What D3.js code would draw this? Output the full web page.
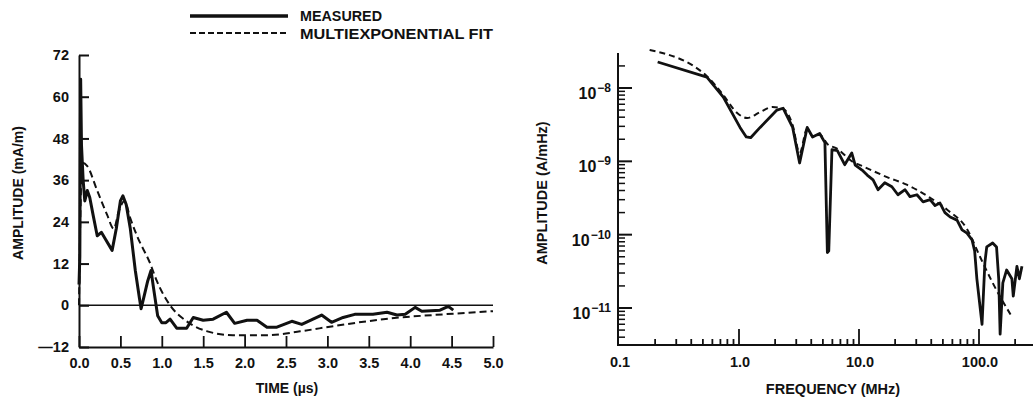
<!DOCTYPE html>
<html>
<head>
<meta charset="utf-8">
<script src="https://cdn.jsdelivr.net/npm/d3@7"></script>
<style>
  body { margin: 0; background: #fff; }
  svg { display: block; }
  text { font-family: "Liberation Sans", Arial, sans-serif; font-weight: bold; fill: #111; }
  .axis path, .axis line { stroke: #111; }
</style>
</head>
<body>
<svg id="chart"></svg>
<script>
// ---- left panel: time domain ----
const timeTicks = [0, 0.5, 1, 1.5, 2, 2.5, 3, 3.5, 4, 4.5, 5];
const ampTicks = [-12, 0, 12, 24, 36, 48, 60, 72];

// [time (us), amplitude (mA/m)]
const measuredTime = [
  [0, 6], [0.01, 14], [0.02, 65], [0.03, 46], [0.05, 36], [0.07, 30], [0.1, 33], [0.13, 31],
  [0.17, 26], [0.22, 20], [0.27, 21], [0.32, 19], [0.4, 15.8], [0.45, 22], [0.5, 30], [0.53, 31.5],
  [0.57, 29], [0.62, 22], [0.68, 10], [0.73, 2], [0.75, -1], [0.78, 2], [0.83, 7], [0.87, 10],
  [0.9, 5], [0.95, -3], [1.0, -5], [1.05, -5], [1.1, -4], [1.18, -6.6], [1.3, -6.6], [1.38, -3.5],
  [1.5, -4.3], [1.62, -4], [1.78, -2], [1.88, -5.2], [2.03, -4.3], [2.15, -4.3], [2.27, -6.3],
  [2.39, -6.3], [2.57, -4.6], [2.69, -5.5], [2.93, -2.8], [3.05, -4.9], [3.19, -3.5], [3.33, -2.6],
  [3.55, -2.6], [3.72, -2], [3.84, -2.8], [3.94, -2.6], [4.06, -0.6], [4.14, -1.7], [4.36, -1.4],
  [4.46, -0.3], [4.52, -1.4]
];
const fitTime = [
  [0, 0], [0.02, 30], [0.04, 41], [0.1, 40], [0.22, 33], [0.34, 26], [0.42, 22], [0.48, 27],
  [0.55, 30], [0.62, 25], [0.7, 20], [0.86, 12], [0.94, 7], [1.1, 0], [1.3, -4.6], [1.55, -7.5],
  [1.86, -8.6], [2.27, -8.6], [2.67, -7.5], [3.07, -6], [3.48, -4.6], [3.88, -3.5], [4.28, -2.8],
  [5.0, -1.7]
];

// ---- right panel: frequency domain ----
const freqLabels = [0.1, 1, 10, 100];
const specDecades = [-11, -10, -9, -8];

// [frequency (MHz), amplitude (A/mHz)]
const measuredSpec = [
  [0.21, 2.26e-8], [0.54, 1.41e-8], [0.74, 7.5e-9], [1.02, 2.9e-9], [1.15, 2.15e-9], [1.25, 2.1e-9],
  [1.5, 2.9e-9], [2.07, 5e-9], [2.33, 5.3e-9], [2.8, 2.9e-9], [3.2, 9.5e-10], [3.7, 2.9e-9],
  [4.1, 2.15e-9], [4.7, 2.4e-9], [5.2, 1.8e-9], [5.45, 5.7e-11], [5.6, 6e-11], [5.95, 1.44e-9],
  [6.6, 1.4e-9], [7.6, 9e-10], [8.7, 1.3e-9], [9.3, 8.9e-10], [10.6, 7.6e-10], [11.7, 6.5e-10],
  [13.1, 5.6e-10], [14.4, 4.1e-10], [16.4, 5.1e-10], [18.8, 4.5e-10], [21.1, 3.5e-10],
  [24.2, 4.1e-10], [26.6, 3.3e-10], [30.4, 3.5e-10], [34.2, 2.8e-10], [39.1, 3e-10], [43, 2.5e-10],
  [47.3, 2.7e-10], [52, 2e-10], [57.5, 1.74e-10], [65.6, 1.58e-10], [72.2, 1.16e-10],
  [79.4, 1.05e-10], [87.5, 8.5e-11], [92, 6e-11], [96, 2.5e-11], [106, 6e-12], [112, 4.2e-11],
  [116, 6.8e-11], [130, 7.7e-11], [140, 6.8e-11], [146, 2.5e-11], [150, 4.4e-12], [158, 2.2e-11],
  [170, 3.3e-11], [188, 2.5e-11], [193, 1.45e-11], [207, 3.7e-11], [217, 2.5e-11], [228, 3.7e-11]
];
const fitSpec = [
  [0.18, 3.3e-8], [0.54, 1.45e-8], [0.74, 8e-9], [0.96, 4.6e-9], [1.17, 3.9e-9], [1.5, 4.7e-9],
  [1.9, 5.5e-9], [2.33, 5.2e-9], [2.8, 3.1e-9], [3.2, 1.3e-9], [3.7, 2.8e-9], [4.1, 2.2e-9],
  [4.7, 2.3e-9], [5.5, 1.7e-9], [6.5, 1.5e-9], [8.9, 9.8e-10], [10.2, 8.9e-10], [17.1, 6.1e-10],
  [25, 4.8e-10], [39, 3.2e-10], [54, 2.2e-10], [80, 1.17e-10], [102, 5e-11], [130, 2.2e-11],
  [188, 7.6e-12]
];

const W = 1033, H = 398;
const svg = d3.select('#chart').attr('width', W).attr('height', H);

// ================= left panel =================
const xT = d3.scaleLinear().domain([0, 5]).range([79, 493]);
const yT = d3.scaleLinear().domain([-12, 72]).range([347, 55]);

const left = svg.append('g');

left.append('g')
  .attr('class', 'axis')
  .attr('transform', `translate(${xT(0)},0)`)
  .call(d3.axisLeft(yT).tickValues(ampTicks).tickSize(-10).tickSizeOuter(0).tickPadding(10)
    .tickFormat(d => d < 0 ? '\u2014' + Math.abs(d) : d))
  .call(g => g.select('.domain').attr('stroke-width', 2))
  .call(g => g.selectAll('.tick line').attr('stroke-width', 2))
  .call(g => g.selectAll('text').style('font-size', '14.5px').attr('fill', '#111'));

left.append('g')
  .attr('class', 'axis')
  .attr('transform', `translate(0,${yT(-12)})`)
  .call(d3.axisBottom(xT).tickValues(timeTicks).tickSize(-11).tickSizeOuter(0).tickPadding(11)
    .tickFormat(d3.format('.1f')))
  .call(g => g.select('.domain').attr('stroke-width', 2))
  .call(g => g.selectAll('.tick line').attr('stroke-width', 1.8))
  .call(g => g.selectAll('text').style('font-size', '14.5px').attr('fill', '#111'));

// zero line
left.append('line')
  .attr('x1', xT(0)).attr('x2', xT(5))
  .attr('y1', yT(0)).attr('y2', yT(0))
  .attr('stroke', '#111').attr('stroke-width', 1.5);

left.append('path')
  .datum(fitTime)
  .attr('d', d3.line().x(d => xT(d[0])).y(d => yT(d[1])).curve(d3.curveMonotoneX))
  .attr('fill', 'none').attr('stroke', '#111').attr('stroke-width', 2)
  .attr('stroke-dasharray', '7,4');

left.append('path')
  .datum(measuredTime)
  .attr('d', d3.line().x(d => xT(d[0])).y(d => yT(d[1])))
  .attr('fill', 'none').attr('stroke', '#111').attr('stroke-width', 3)
  .attr('stroke-linejoin', 'round');

left.append('text')
  .attr('transform', 'translate(23,193) rotate(-90)')
  .attr('text-anchor', 'middle')
  .style('font-size', '14px')
  .text('AMPLITUDE (mA/m)');

left.append('text')
  .attr('x', 287).attr('y', 393)
  .attr('text-anchor', 'middle')
  .style('font-size', '14px')
  .text('TIME (\u00b5s)');

// legend
const legend = svg.append('g');
legend.append('line').attr('x1', 190).attr('x2', 288).attr('y1', 16).attr('y2', 16)
  .attr('stroke', '#111').attr('stroke-width', 3.5);
legend.append('line').attr('x1', 190).attr('x2', 288).attr('y1', 33).attr('y2', 33)
  .attr('stroke', '#111').attr('stroke-width', 2).attr('stroke-dasharray', '6,3');
legend.append('text').attr('x', 300).attr('y', 21).style('font-size', '14px')
  .attr('textLength', 82).attr('lengthAdjust', 'spacingAndGlyphs').text('MEASURED');
legend.append('text').attr('x', 300).attr('y', 39).style('font-size', '14px')
  .attr('textLength', 193).attr('lengthAdjust', 'spacingAndGlyphs').text('MULTIEXPONENTIAL FIT');

// ================= right panel =================
const xF = d3.scaleLog().domain([0.1, 100]).range([619, 979]);
const yF = d3.scaleLog().domain([1e-11, 1e-8]).range([308, 88]);
const yTop = 53, yBot = 345, xAxisX = 618;

const right = svg.append('g');

// y axis line
right.append('line')
  .attr('x1', xAxisX).attr('x2', xAxisX).attr('y1', yTop).attr('y2', yBot + 1)
  .attr('stroke', '#111').attr('stroke-width', 2);
// x axis line
right.append('line')
  .attr('x1', xAxisX - 1).attr('x2', W).attr('y1', yBot).attr('y2', yBot)
  .attr('stroke', '#111').attr('stroke-width', 2);

// y minor / major ticks
const yMinor = [];
for (let e = -12; e <= -8; e++) {
  for (let k = 2; k <= 9; k++) {
    const v = k * Math.pow(10, e);
    if (yF(v) > yTop + 2 && yF(v) < yBot - 2) yMinor.push(v);
  }
}
right.selectAll('.yminor')
  .data(yMinor)
  .join('line')
  .attr('x1', xAxisX).attr('x2', xAxisX + 7)
  .attr('y1', d => yF(d)).attr('y2', d => yF(d))
  .attr('stroke', '#111').attr('stroke-width', 1.5);

right.selectAll('.ymajor')
  .data(specDecades)
  .join('line')
  .attr('x1', xAxisX).attr('x2', xAxisX + 14)
  .attr('y1', d => yF(Math.pow(10, d))).attr('y2', d => yF(Math.pow(10, d)))
  .attr('stroke', '#111').attr('stroke-width', 2);

const yLab = right.selectAll('.ylab')
  .data(specDecades)
  .join('text')
  .attr('text-anchor', 'end')
  .attr('x', 611)
  .attr('y', d => yF(Math.pow(10, d)) + 11)
  .style('font-size', '16px');
yLab.append('tspan').text('10');
yLab.append('tspan').attr('dx', 1).attr('dy', -7).style('font-size', '12px')
  .text(d => '\u2212' + Math.abs(d));

// x ticks
const xMinor = [];
for (let e = -1; e <= 2; e++) {
  for (let k = 2; k <= 9; k++) {
    const v = k * Math.pow(10, e);
    if (xF(v) < W - 2) xMinor.push(v);
  }
}
right.selectAll('.xminor')
  .data(xMinor)
  .join('line')
  .attr('x1', d => xF(d)).attr('x2', d => xF(d))
  .attr('y1', yBot).attr('y2', yBot - 6)
  .attr('stroke', '#111').attr('stroke-width', 1.8);

right.selectAll('.xmajor')
  .data(freqLabels.slice(1))
  .join('line')
  .attr('x1', d => xF(d)).attr('x2', d => xF(d))
  .attr('y1', yBot).attr('y2', yBot - 16)
  .attr('stroke', '#111').attr('stroke-width', 1.8);

right.selectAll('.xlab')
  .data(freqLabels)
  .join('text')
  .attr('text-anchor', 'middle')
  .attr('x', d => xF(d) + 1)
  .attr('y', 367)
  .style('font-size', '14.5px')
  .text(d => d3.format('.1f')(d));

right.append('path')
  .datum(fitSpec)
  .attr('d', d3.line().x(d => xF(d[0])).y(d => yF(d[1])).curve(d3.curveMonotoneX))
  .attr('fill', 'none').attr('stroke', '#111').attr('stroke-width', 2)
  .attr('stroke-dasharray', '6,4');

right.append('path')
  .datum(measuredSpec)
  .attr('d', d3.line().x(d => xF(d[0])).y(d => yF(d[1])))
  .attr('fill', 'none').attr('stroke', '#111').attr('stroke-width', 2.8)
  .attr('stroke-linejoin', 'round');

right.append('text')
  .attr('transform', 'translate(547,193) rotate(-90)')
  .attr('text-anchor', 'middle')
  .style('font-size', '14.5px')
  .text('AMPLITUDE (A/mHz)');

right.append('text')
  .attr('x', 833).attr('y', 394)
  .attr('text-anchor', 'middle')
  .style('font-size', '14.5px')
  .text('FREQUENCY (MHz)');
</script>
</body>
</html>
